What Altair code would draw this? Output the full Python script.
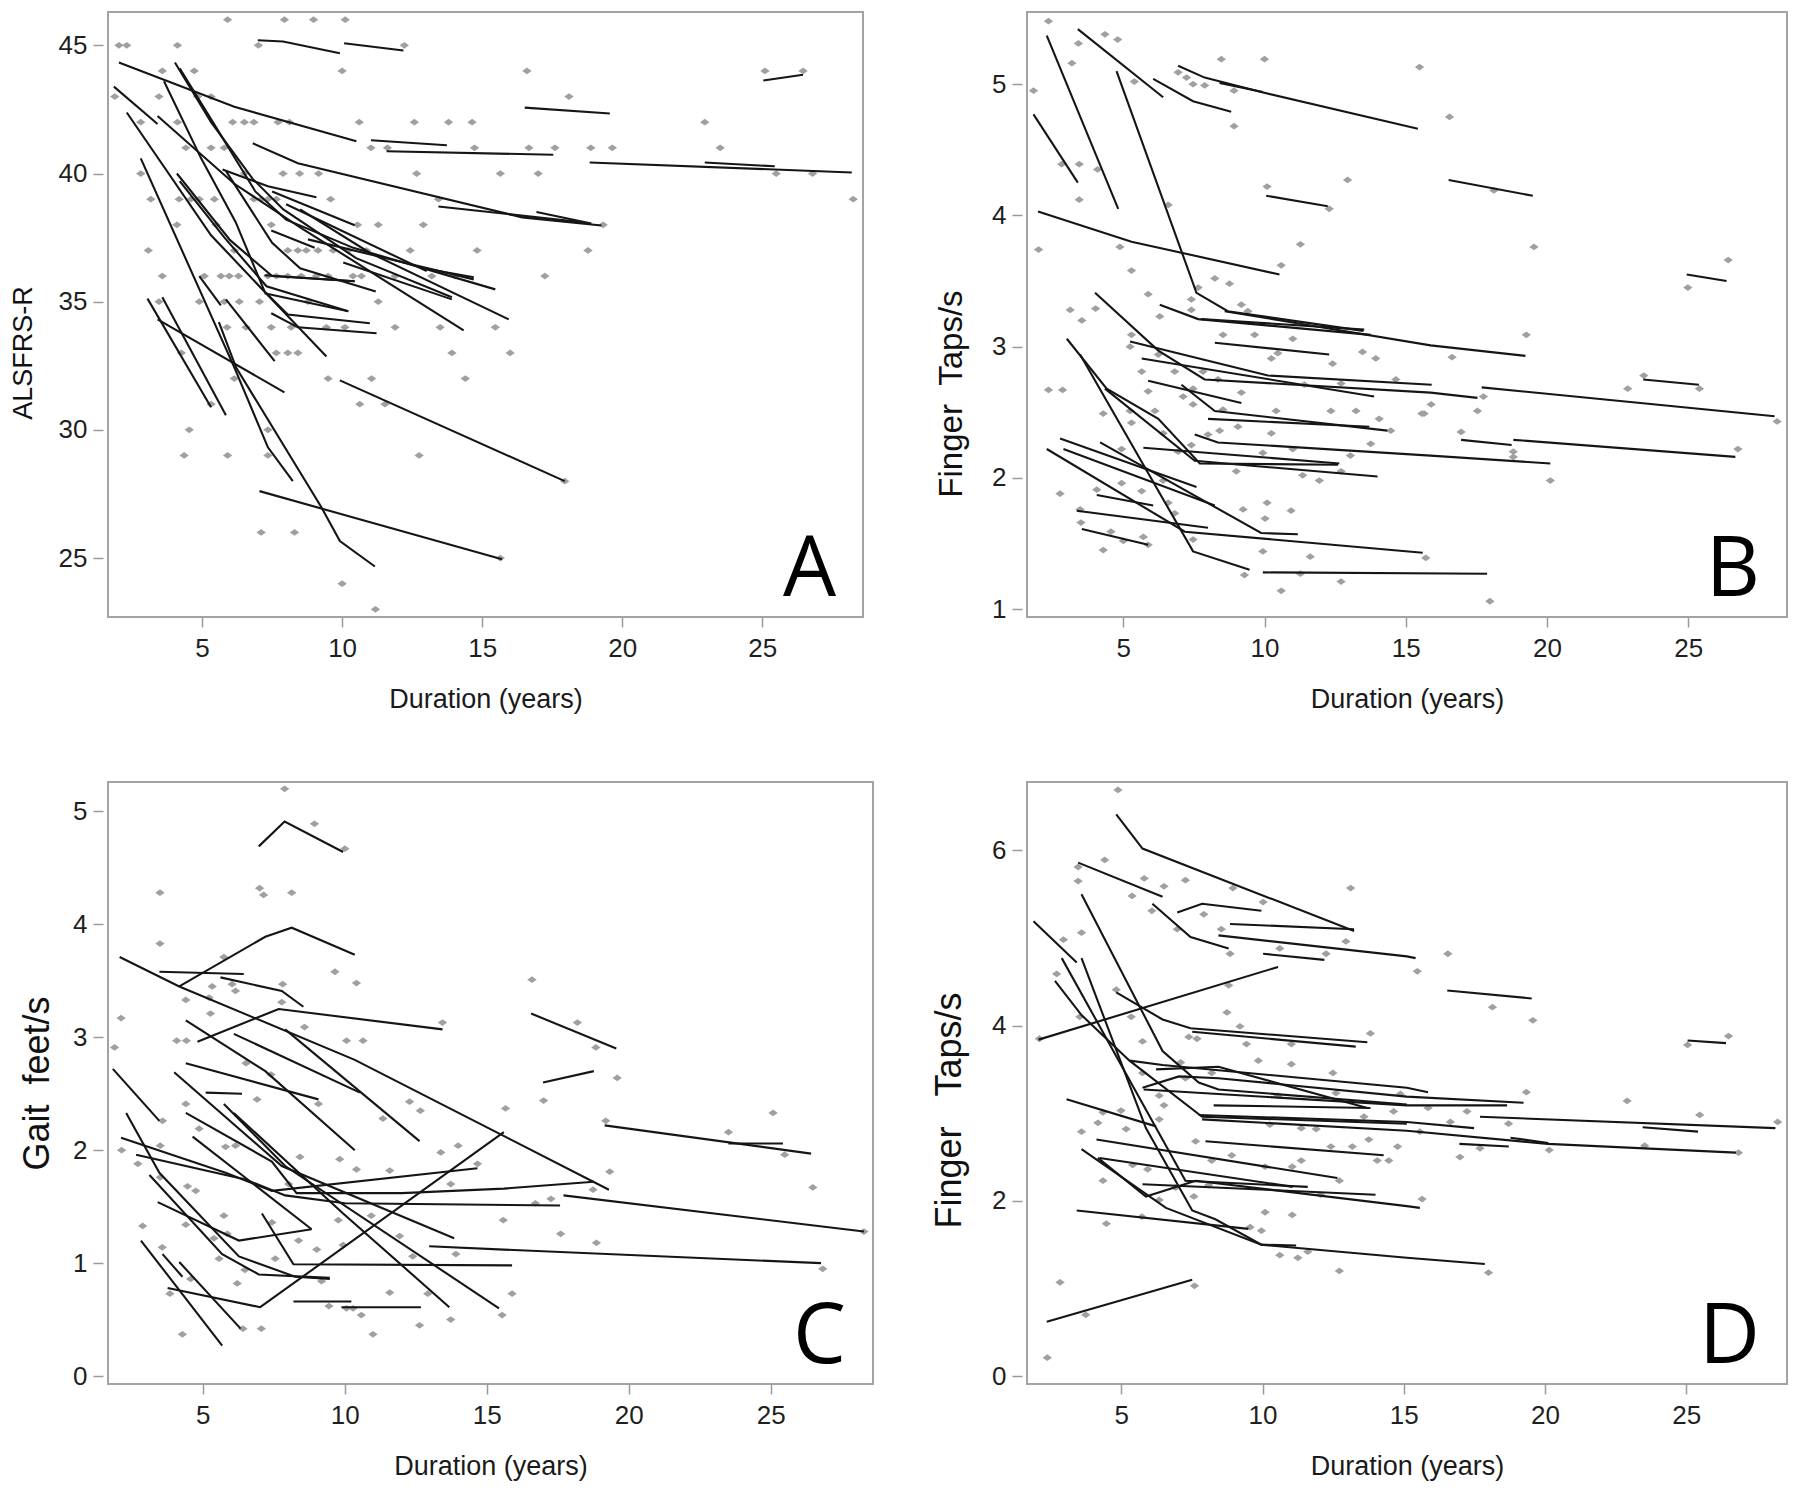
import altair as alt
import pandas as pd

# ---------------- data ----------------
X_TICKS = [5, 10, 15, 20, 25]
X_TITLE = "Duration (years)"

# Panel A (ALSFRS-R): points grouped by integer score -> durations
A_point_rows = {
    46: [5.91, 7.94, 8.98, 10.11],
    45: [2.03, 2.31, 4.12, 7.01, 12.22],
    44: [3.58, 4.72, 10.0, 16.6, 25.1, 26.46],
    43: [1.88, 3.46, 4.84, 5.32, 18.1],
    42: [2.81, 4.12, 6.09, 6.51, 6.85, 7.71, 8.12, 10.61, 12.58, 13.8, 14.64, 22.95],
    41: [4.42, 5.32, 5.79, 11.03, 11.62, 14.73, 16.67, 17.6, 18.88, 19.65, 23.5],
    40: [2.81, 6.51, 7.89, 8.48, 9.16, 12.66, 15.65, 17.0, 25.5, 26.8],
    39: [3.17, 4.18, 4.6, 4.9, 5.44, 6.85, 7.11, 7.35, 7.65, 9.59, 13.44, 28.25],
    38: [4.1, 5.5, 7.47, 10.55, 11.29, 12.9, 19.32],
    37: [3.08, 6.15, 8.06, 8.42, 8.72, 9.14, 9.68, 10.22, 10.87, 12.43, 14.82, 18.78],
    36: [3.58, 5.08, 5.67, 5.97, 6.3, 7.35, 7.65, 8.06, 8.54, 9.08, 9.5, 10.39, 10.69, 11.89, 13.2, 14.04, 17.24],
    35: [3.46, 4.9, 5.79, 6.33, 7.05, 8.78, 11.29],
    34: [5.89, 6.57, 7.47, 8.18, 9.44, 10.1, 11.89, 13.5, 15.47],
    33: [4.26, 7.65, 8.06, 8.42, 13.92, 16.0],
    32: [6.15, 9.5, 11.05, 14.4],
    31: [5.32, 10.63, 11.53],
    30: [4.54, 7.35],
    29: [4.36, 5.91, 7.35, 12.75],
    28: [17.95],
    26: [7.11, 8.3],
    25: [15.65],
    24: [10.0],
    23: [11.19],
}
A_lines = [
    [(2.03, 44.33), (6.15, 42.6), (10.51, 41.26)],
    [(1.85, 43.39), (3.41, 41.93)],
    [(2.31, 42.38), (5.32, 37.59), (7.35, 35.25), (9.44, 32.86)],
    [(2.81, 40.59), (6.15, 32.44), (7.35, 29.32), (8.24, 28.0)],
    [(3.64, 43.6), (4.96, 40.6), (6.2, 38.1), (7.23, 35.4), (8.06, 34.5), (10.99, 34.16)],
    [(4.03, 44.33), (5.32, 42.0), (6.8, 39.8), (7.9, 38.6), (10.5, 36.7), (13.92, 35.17)],
    [(4.2, 44.1), (5.5, 41.8), (6.9, 39.3), (8.0, 38.2), (10.4, 37.1), (15.47, 35.48)],
    [(3.41, 42.24), (6.15, 39.6), (8.5, 37.9), (14.34, 33.88)],
    [(6.81, 41.18), (8.42, 40.4), (16.43, 38.29), (19.26, 37.97)],
    [(13.44, 38.71), (18.6, 38.1)],
    [(16.94, 38.5), (18.9, 38.05)],
    [(5.73, 40.16), (7.35, 39.5), (9.08, 39.07)],
    [(5.85, 40.1), (7.5, 37.3), (8.5, 36.3), (11.2, 35.4)],
    [(11.03, 41.3), (13.74, 41.1)],
    [(11.59, 40.87), (17.54, 40.73)],
    [(18.84, 40.43), (28.2, 40.04)],
    [(22.95, 40.43), (25.45, 40.28)],
    [(16.52, 42.57), (19.56, 42.34)],
    [(25.04, 43.63), (26.46, 43.85)],
    [(6.99, 45.2), (7.89, 45.15), (9.92, 44.69)],
    [(10.07, 45.08), (12.19, 44.8)],
    [(8.78, 37.43), (14.7, 35.87)],
    [(10.04, 36.53), (13.92, 35.09)],
    [(12.9, 36.3), (14.7, 35.95)],
    [(7.47, 37.78), (9.02, 37.1)],
    [(7.23, 36.03), (10.45, 35.8)],
    [(7.23, 35.33), (10.22, 34.63)],
    [(7.47, 34.55), (8.42, 34.0), (11.23, 33.77)],
    [(4.9, 36.0), (5.67, 34.86)],
    [(5.85, 35.09), (7.59, 32.68)],
    [(3.41, 34.31), (7.94, 31.46)],
    [(3.05, 35.12), (5.32, 30.88)],
    [(3.58, 35.17), (5.85, 30.57)],
    [(5.6, 34.2), (6.21, 32.44), (9.26, 26.98), (9.92, 25.66), (11.17, 24.67)],
    [(7.05, 27.61), (15.71, 24.95)],
    [(9.92, 31.93), (17.95, 28.0)],
    [(8.5, 38.6), (11.0, 36.9), (15.95, 34.31)],
    [(8.0, 38.8), (13.02, 36.19)],
    [(7.5, 39.3), (10.45, 37.98)],
    [(4.1, 40.0), (6.0, 37.4), (7.5, 36.0), (10.45, 35.8)],
    [(4.2, 39.7), (5.8, 37.5), (7.3, 35.6), (10.22, 34.63)],
]

# Panel B (finger taps/s)
B_points = [
    (2.35, 5.48), (1.82, 4.95), (3.18, 5.16), (3.41, 5.31), (4.35, 5.38), (4.8, 5.34), (5.39, 5.02),
    (6.94, 5.09), (7.24, 5.05), (7.47, 5.0), (7.88, 4.99), (8.47, 5.19), (10.0, 5.19), (8.92, 4.95),
    (8.92, 4.68), (15.49, 5.13), (2.82, 4.39), (3.44, 4.39), (4.09, 4.35), (3.44, 4.12), (6.59, 4.08),
    (10.09, 4.22), (12.94, 4.27), (12.29, 4.05), (11.27, 3.78), (10.59, 3.62), (2.0, 3.74), (4.88, 3.76),
    (5.29, 3.58), (8.24, 3.52), (8.76, 3.48), (7.65, 3.45), (7.41, 3.36), (5.88, 3.4), (3.12, 3.28),
    (4.02, 3.29), (3.53, 3.2), (6.29, 3.23), (9.18, 3.32), (9.41, 3.27), (7.41, 3.28), (5.29, 3.09),
    (5.24, 3.0), (8.53, 3.09), (9.65, 3.09), (11.0, 3.06), (13.47, 2.96), (13.94, 2.91), (6.24, 2.94),
    (5.65, 2.81), (6.82, 2.81), (7.82, 2.81), (10.24, 2.91), (10.47, 2.95), (12.41, 2.87), (2.35, 2.67),
    (2.85, 2.67), (5.88, 2.66), (7.12, 2.62), (7.47, 2.68), (8.35, 2.75), (9.18, 2.65), (11.41, 2.71),
    (12.71, 2.72), (14.65, 2.75), (4.29, 2.49), (5.24, 2.51), (6.12, 2.51), (7.47, 2.56), (8.53, 2.52),
    (10.41, 2.51), (12.35, 2.51), (13.24, 2.51), (14.06, 2.45), (15.65, 2.49), (5.29, 2.42), (6.41, 2.34),
    (8.0, 2.33), (8.41, 2.36), (9.06, 2.39), (10.24, 2.34), (13.76, 2.26), (14.47, 2.36), (13.04, 2.17),
    (4.94, 2.22), (6.94, 2.2), (7.41, 2.25), (9.94, 2.19), (11.0, 2.22), (12.71, 2.05), (11.94, 1.98),
    (11.35, 2.02), (9.0, 2.05), (2.76, 1.88), (4.06, 1.91), (4.94, 1.96), (5.65, 1.9), (6.41, 1.98),
    (6.59, 1.81), (3.47, 1.76), (3.5, 1.66), (4.56, 1.59), (5.0, 1.52), (5.71, 1.55), (5.88, 1.49),
    (6.82, 1.73), (4.29, 1.45), (7.47, 1.53), (9.29, 1.26), (9.24, 1.76), (10.09, 1.81), (10.02, 1.69),
    (10.94, 1.75), (9.94, 1.44), (11.62, 1.4), (11.27, 1.27), (12.71, 1.21), (10.59, 1.14), (15.71, 1.39),
    (16.55, 4.75), (18.12, 4.19), (19.54, 3.76), (26.42, 3.66), (24.99, 3.45), (19.27, 3.09), (16.64, 2.92),
    (23.43, 2.78), (22.86, 2.68), (25.4, 2.68), (15.9, 2.56), (15.57, 2.49), (17.75, 2.62), (17.54, 2.51),
    (28.15, 2.43), (16.96, 2.35), (18.81, 2.2), (26.76, 2.22), (20.12, 1.98), (17.98, 1.06), (18.81, 2.16),
]
B_lines = [
    [(1.82, 4.77), (3.39, 4.25)],
    [(2.29, 5.37), (4.82, 4.05)],
    [(3.39, 5.42), (6.41, 4.9)],
    [(4.76, 5.1), (7.59, 3.41), (8.7, 3.27), (13.5, 3.12)],
    [(6.06, 5.04), (7.47, 4.87), (8.82, 4.79)],
    [(6.94, 5.14), (7.88, 5.05), (9.88, 4.94), (15.43, 4.66)],
    [(8.41, 5.01), (9.94, 4.94)],
    [(10.06, 4.15), (12.24, 4.07)],
    [(16.52, 4.27), (19.5, 4.15)],
    [(1.98, 4.03), (5.29, 3.8), (10.53, 3.55)],
    [(24.95, 3.55), (26.36, 3.5)],
    [(4.0, 3.41), (6.24, 2.97), (7.88, 2.75), (15.88, 2.65), (17.54, 2.61)],
    [(6.29, 3.32), (7.65, 3.21), (13.76, 3.09)],
    [(7.76, 3.21), (13.53, 3.13)],
    [(8.59, 3.27), (15.88, 3.01), (19.24, 2.93)],
    [(5.24, 3.04), (10.12, 2.78), (15.92, 2.71)],
    [(8.24, 3.03), (12.29, 2.94)],
    [(5.65, 2.91), (13.88, 2.62)],
    [(5.88, 2.74), (9.18, 2.57)],
    [(7.06, 2.71), (8.24, 2.51), (14.35, 2.36)],
    [(8.0, 2.45), (13.71, 2.39)],
    [(3.0, 3.06), (4.41, 2.68), (6.24, 2.45), (7.71, 2.11), (12.6, 2.1)],
    [(3.47, 2.94), (7.47, 1.44), (9.47, 1.3)],
    [(4.35, 2.68), (7.53, 2.13), (14.0, 2.01)],
    [(7.53, 2.33), (8.35, 2.27), (15.88, 2.17), (20.12, 2.11)],
    [(5.71, 2.23), (12.65, 2.11)],
    [(2.76, 2.3), (7.59, 1.93)],
    [(2.88, 2.22), (8.24, 1.79)],
    [(2.29, 2.22), (7.18, 1.59), (15.6, 1.43)],
    [(4.18, 2.27), (9.88, 1.58), (11.18, 1.57)],
    [(4.06, 1.87), (6.06, 1.79)],
    [(3.35, 1.75), (8.0, 1.62)],
    [(3.53, 1.61), (5.88, 1.49)],
    [(9.94, 1.28), (17.88, 1.27)],
    [(17.69, 2.69), (28.06, 2.47)],
    [(23.41, 2.75), (25.38, 2.71)],
    [(16.96, 2.29), (18.75, 2.25)],
    [(18.81, 2.29), (26.67, 2.16)],
]

# Panel C (gait feet/s)
C_points = [
    (1.89, 2.91), (2.12, 3.17), (2.14, 2.0), (2.71, 1.88), (2.88, 1.33), (3.49, 4.28), (3.49, 3.83),
    (3.5, 2.04), (3.5, 1.76), (3.57, 1.14), (3.58, 2.26), (3.84, 0.73), (4.08, 2.97), (4.4, 3.33),
    (4.42, 2.97), (4.4, 2.41), (4.46, 1.68), (4.4, 1.34), (4.28, 0.37), (4.57, 0.86), (4.75, 1.64),
    (4.87, 2.19), (5.27, 3.21), (5.22, 3.35), (5.33, 3.45), (5.39, 1.22), (5.57, 1.04), (5.8, 2.03),
    (5.74, 1.42), (5.74, 3.71), (5.86, 1.26), (6.03, 3.47), (6.15, 3.41), (6.15, 2.04), (6.21, 0.82),
    (6.41, 0.42), (6.48, 0.94), (6.52, 2.77), (6.91, 2.45), (7.0, 4.32), (7.14, 4.26), (7.06, 0.42),
    (7.4, 2.67), (7.43, 1.36), (7.55, 1.04), (7.81, 3.47), (7.88, 5.2), (7.78, 3.31), (8.13, 4.28),
    (8.02, 1.7), (8.37, 1.2), (8.42, 1.94), (8.58, 3.09), (8.93, 4.89), (9.07, 2.41), (9.01, 1.12),
    (9.18, 0.84), (9.44, 0.62), (9.65, 3.58), (9.77, 1.38), (9.82, 1.92), (10.0, 4.67), (10.06, 2.97),
    (9.94, 1.16), (10.06, 0.6), (10.29, 0.6), (10.41, 1.83), (10.41, 3.48), (10.64, 2.97), (10.58, 0.54),
    (10.93, 1.42), (10.99, 0.37), (11.34, 2.28), (11.58, 1.82), (11.58, 0.74), (11.93, 1.24), (12.28, 2.43),
    (12.66, 2.35), (12.63, 0.45), (12.39, 1.06), (12.92, 0.73), (13.38, 1.98), (13.44, 3.13), (13.73, 1.7),
    (13.91, 1.08), (13.99, 2.04), (13.73, 0.5), (14.67, 1.88), (15.54, 0.54), (15.58, 1.38), (15.66, 2.37),
    (15.89, 0.73), (16.59, 3.51), (18.19, 3.13), (18.84, 2.91), (19.59, 2.64), (17.0, 2.44), (25.08, 2.33),
    (19.19, 2.26), (23.51, 2.16), (25.49, 1.96), (19.33, 1.81), (18.74, 1.65), (26.48, 1.67), (16.71, 1.53),
    (17.26, 1.57), (17.6, 1.26), (18.86, 1.18), (28.28, 1.28), (26.83, 0.95),
]
C_lines = [
    [(6.97, 4.69), (7.88, 4.91), (9.94, 4.64)],
    [(4.17, 3.45), (7.2, 3.89), (8.13, 3.97), (10.35, 3.73)],
    [(3.47, 3.58), (6.44, 3.56)],
    [(2.07, 3.71), (4.17, 3.45), (10.35, 2.8), (19.3, 1.65)],
    [(5.62, 3.53), (7.78, 3.41), (8.54, 3.27)],
    [(4.81, 2.96), (7.67, 3.25), (13.44, 3.07)],
    [(4.4, 3.15), (7.2, 2.7), (10.35, 2.0)],
    [(6.09, 3.03), (10.53, 2.51)],
    [(7.9, 3.07), (12.63, 2.08)],
    [(4.4, 2.77), (9.07, 2.45)],
    [(5.1, 2.51), (6.38, 2.5)],
    [(3.99, 2.69), (7.78, 1.86), (13.85, 1.22)],
    [(5.74, 2.41), (7.9, 1.86), (15.43, 0.6)],
    [(6.09, 2.33), (9.94, 1.44), (13.68, 0.61)],
    [(2.3, 2.33), (3.47, 1.8), (6.27, 1.06), (8.25, 0.88), (9.47, 0.86)],
    [(1.83, 2.72), (3.47, 2.26)],
    [(2.12, 2.11), (5.8, 1.8), (7.43, 1.64), (14.67, 1.84)],
    [(2.65, 1.96), (6.5, 1.74), (7.9, 1.6), (10.0, 1.53), (17.58, 1.51)],
    [(3.12, 1.78), (5.68, 1.08), (6.97, 0.9), (9.47, 0.87)],
    [(3.41, 1.54), (6.27, 1.2), (8.83, 1.3)],
    [(2.82, 1.2), (5.68, 0.27)],
    [(3.58, 1.08), (4.28, 0.88)],
    [(4.17, 1.01), (6.33, 0.42)],
    [(3.76, 0.78), (7.02, 0.61), (15.6, 2.16)],
    [(7.08, 1.44), (8.19, 0.99), (15.89, 0.98)],
    [(4.4, 2.33), (7.43, 1.9), (8.3, 1.62), (12.0, 1.62), (15.6, 1.66), (18.77, 1.72)],
    [(4.64, 2.12), (8.83, 1.3)],
    [(8.19, 0.66), (10.23, 0.66)],
    [(9.88, 0.61), (12.68, 0.61)],
    [(16.56, 3.21), (19.56, 2.9)],
    [(16.98, 2.6), (18.77, 2.7)],
    [(19.15, 2.22), (26.42, 1.97)],
    [(23.51, 2.06), (25.43, 2.06)],
    [(17.7, 1.6), (28.28, 1.28)],
    [(12.97, 1.15), (15.6, 1.12), (26.77, 1.0)],
]

# Panel D (finger taps/s)
D_points = [
    (4.88, 6.69), (3.47, 5.81), (3.47, 5.65), (4.41, 5.89), (5.81, 5.68), (6.51, 5.59), (5.38, 5.48),
    (6.08, 5.31), (7.27, 5.66), (7.92, 5.27), (6.98, 5.1), (8.54, 5.1), (8.95, 5.57), (10.02, 5.41),
    (13.12, 5.57), (12.95, 4.96), (10.61, 4.88), (8.85, 4.82), (12.25, 4.82), (2.95, 4.98), (2.71, 4.59),
    (3.59, 5.06), (8.8, 4.46), (4.82, 4.41), (8.74, 4.15), (5.35, 4.1), (2.1, 3.85), (3.53, 4.1),
    (5.75, 3.82), (7.39, 3.87), (7.68, 3.85), (9.2, 3.99), (9.43, 3.79), (9.85, 3.6), (11.02, 3.79),
    (11.02, 3.56), (13.82, 3.91), (7.1, 3.58), (5.75, 3.46), (7.27, 3.4), (8.2, 3.46), (6.34, 3.2),
    (6.51, 3.09), (6.34, 2.93), (10.55, 3.2), (12.49, 3.46), (12.6, 3.23), (13.59, 2.96), (14.64, 3.02),
    (14.88, 3.22), (11.37, 2.83), (11.9, 2.82), (10.26, 2.87), (3.59, 2.79), (4.17, 2.89), (5.17, 2.82),
    (4.35, 3.01), (4.99, 3.03), (7.63, 2.68), (12.42, 2.62), (13.18, 2.62), (13.76, 2.7), (14.06, 2.46),
    (14.47, 2.46), (14.78, 2.62), (8.91, 2.52), (8.2, 2.46), (11.05, 2.39), (10.09, 2.39), (11.37, 2.46),
    (5.4, 2.41), (4.35, 2.23), (5.93, 2.36), (6.92, 2.15), (7.57, 2.05), (8.09, 2.18), (12.05, 2.07),
    (12.72, 2.23), (10.09, 1.87), (11.05, 1.84), (4.47, 1.74), (5.73, 1.82), (6.34, 2.01), (9.56, 1.7),
    (9.96, 1.66), (10.61, 1.38), (11.25, 1.35), (11.6, 1.42), (12.72, 1.2), (2.83, 1.07), (3.74, 0.7),
    (7.59, 1.03), (2.38, 0.21), (16.56, 4.82), (15.48, 4.62), (18.14, 4.21), (19.57, 4.06), (26.5, 3.88),
    (25.05, 3.78), (19.34, 3.24), (22.91, 3.14), (15.86, 3.06), (17.24, 3.02), (25.48, 2.98), (16.65, 2.9),
    (18.71, 2.88), (28.24, 2.9), (17.7, 2.6), (15.57, 2.79), (16.99, 2.5), (20.15, 2.58), (23.53, 2.63),
    (26.85, 2.55), (15.65, 2.02), (18.0, 1.18),
]
D_lines = [
    [(4.82, 6.41), (5.75, 6.02), (13.24, 5.08)],
    [(3.47, 5.86), (6.46, 5.47)],
    [(6.1, 5.39), (7.45, 5.01), (8.8, 4.88)],
    [(6.98, 5.29), (7.86, 5.39), (9.96, 5.31)],
    [(8.85, 5.16), (13.24, 5.1)],
    [(8.44, 5.03), (15.11, 4.79), (15.42, 4.77)],
    [(10.02, 4.82), (12.19, 4.75)],
    [(2.07, 3.84), (10.55, 4.67)],
    [(1.89, 5.19), (3.42, 4.72)],
    [(3.59, 5.5), (6.46, 3.71), (7.74, 3.35), (8.44, 3.27), (15.11, 3.1)],
    [(4.82, 4.38), (6.46, 4.07), (7.45, 3.97), (13.71, 3.81)],
    [(7.51, 3.93), (13.3, 3.76)],
    [(2.65, 4.51), (3.59, 4.12), (5.29, 3.6), (7.86, 2.96), (15.11, 2.88)],
    [(2.89, 4.77), (7.27, 2.23), (11.6, 2.16)],
    [(3.59, 4.77), (5.87, 2.83), (7.51, 1.89), (8.33, 1.79), (9.96, 1.5), (15.11, 1.35), (17.87, 1.28)],
    [(2.36, 0.62), (7.51, 1.1)],
    [(3.42, 1.89), (9.5, 1.68)],
    [(3.59, 2.59), (6.58, 1.92), (9.96, 1.5), (11.19, 1.49)],
    [(4.12, 2.7), (12.65, 2.26)],
    [(4.23, 2.49), (11.07, 2.16)],
    [(5.75, 2.19), (14.0, 2.07)],
    [(4.17, 2.49), (5.87, 2.05), (7.63, 2.23), (15.11, 1.94), (15.57, 1.92)],
    [(7.98, 2.68), (14.29, 2.52)],
    [(3.06, 3.16), (6.23, 2.85)],
    [(5.29, 3.6), (6.46, 3.55), (15.11, 3.29), (15.86, 3.24)],
    [(5.75, 3.29), (7.04, 3.42), (8.44, 3.4), (15.11, 3.19), (19.24, 3.12)],
    [(6.23, 3.5), (8.44, 3.53), (13.71, 3.06)],
    [(5.79, 3.27), (15.11, 3.09), (18.66, 3.09)],
    [(7.74, 2.98), (15.11, 2.9), (17.49, 2.83)],
    [(7.86, 2.93), (15.11, 2.8), (20.1, 2.65), (26.76, 2.55)],
    [(8.27, 3.09), (13.82, 3.06)],
    [(16.54, 4.4), (19.53, 4.31)],
    [(25.05, 3.83), (26.41, 3.8)],
    [(17.7, 2.96), (28.16, 2.83)],
    [(23.46, 2.84), (25.42, 2.79)],
    [(16.97, 2.65), (18.72, 2.62)],
    [(18.78, 2.72), (20.12, 2.66)],
]

A_points = [(x, y) for y, xs in A_point_rows.items() for x in xs]

# ---------------- chart ----------------
LABEL_FONT = "Liberation Sans"
TITLE_FONT = "Liberation Sans"
LETTER_FONT = "Liberation Sans Narrow, Open Sans, sans-serif"
DIAMOND = "M-1,0L0,-0.72L1,0L0,0.72Z"


def panel(lines, pts, xdom, ydom, yvals, ytitle, tsize, tdx, tdy, letter, w, h):
    line_df = pd.DataFrame(
        [{"id": i, "seq": j, "x": x, "y": y}
         for i, ln in enumerate(lines) for j, (x, y) in enumerate(ln)]
    )
    pt_df = pd.DataFrame([{"x": x, "y": y} for x, y in pts])
    xs = alt.Scale(domain=xdom, nice=False, zero=False)
    ys = alt.Scale(domain=ydom, nice=False, zero=False)
    xaxis = alt.Axis(values=X_TICKS, title=X_TITLE, titleY=90,
                     titleBaseline="alphabetic", titleFontSize=27,
                     titleFont=LABEL_FONT, titleColor="#1a1a1a", labelPadding=8)
    yaxis = alt.Axis(values=yvals, title=ytitle, titleAngle=270, titleX=tdx,
                     titleY=h / 2 + tdy, titleAlign="center",
                     titleBaseline="alphabetic", titleFontSize=tsize,
                     titleFont=TITLE_FONT, titleColor="#111111")
    enc_x = alt.X("x:Q", scale=xs, axis=xaxis)
    enc_y = alt.Y("y:Q", scale=ys, axis=yaxis)
    p = alt.Chart(pt_df).mark_point(
        shape=DIAMOND, filled=True, size=88, color="#a0a0a0", opacity=1
    ).encode(x=enc_x, y=enc_y)
    l = alt.Chart(line_df).mark_line(color="#151515", strokeWidth=2.1).encode(
        x=enc_x, y=enc_y, detail="id:N", order="seq:Q"
    )
    t = alt.Chart(pd.DataFrame({"t": [letter]})).mark_text(
        align="right", baseline="alphabetic", fontSize=84, font=LETTER_FONT,
        color="#000000"
    ).encode(text="t:N", x=alt.value(w - 27), y=alt.value(h - 21))
    return alt.layer(p, l, t).properties(width=w, height=h)


pA = panel(A_lines, A_points, [1.64, 28.6], [22.7, 46.3], [25, 30, 35, 40, 45],
           "ALSFRS-R", 27, -72, 38, "A", 755, 605)
pB = panel(B_lines, B_points, [1.59, 28.5], [0.94, 5.55], [1, 2, 3, 4, 5],
           "Finger\u00a0\u00a0Taps/s", 33, -61, 79, "B", 760, 605)
pC = panel(C_lines, C_points, [1.66, 28.6], [-0.07, 5.26], [0, 1, 2, 3, 4, 5],
           "Gait\u00a0\u00a0feet/s", 36, -55, 0, "C", 765, 602)
pD = panel(D_lines, D_points, [1.66, 28.57], [-0.09, 6.78], [0, 2, 4, 6],
           "Finger\u00a0\u00a0\u00a0Taps/s", 36, -62, 27, "D", 760, 602)

chart = alt.concat(
    pA, pB, pC, pD, columns=2, bounds="flush",
    spacing=alt.RowColnumber(row=165, column=154),
).properties(
    padding={"left": 0, "top": 3, "right": 2, "bottom": 2}
).configure_view(
    stroke="#a3a3a3", strokeWidth=2
).configure_axis(
    domain=False, grid=False, tickColor="#9a9a9a", tickWidth=1.5, tickSize=10,
    labelFont=LABEL_FONT, labelFontSize=26, labelColor="#1f1f1f", labelPadding=6,
    titleFontWeight="normal",
).configure_axisY(offset=5)

chart.save("out.html", embed_options={"renderer": "svg", "actions": False})
